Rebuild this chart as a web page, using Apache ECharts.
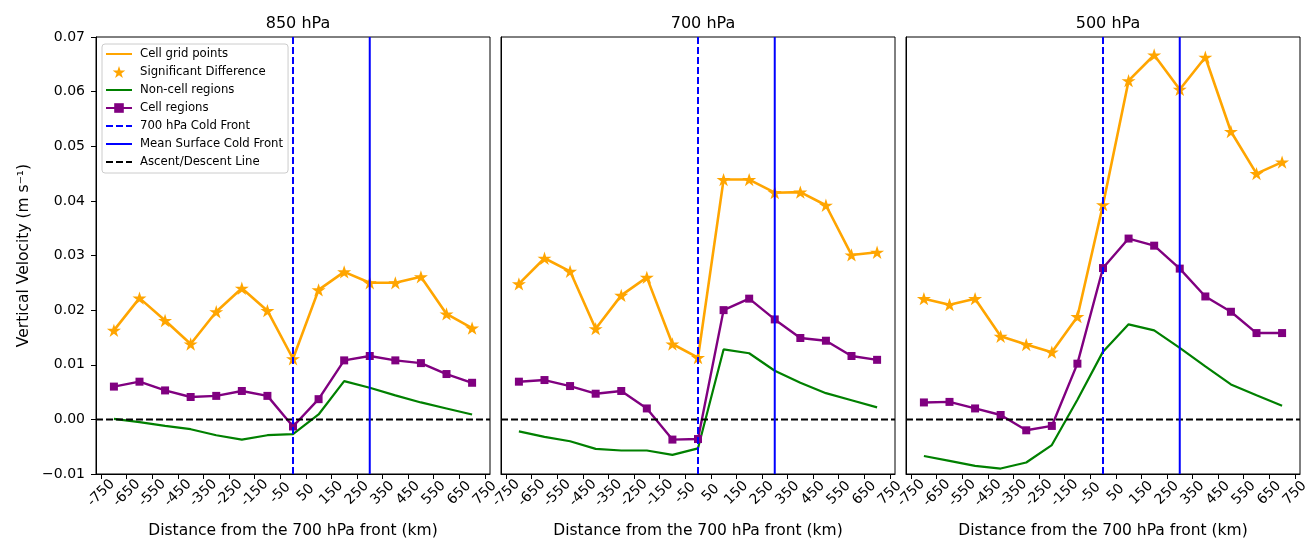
<!DOCTYPE html>
<html>
<head>
<meta charset="utf-8">
<script src="https://cdn.jsdelivr.net/npm/echarts@6/dist/echarts.min.js"></script>
<style>
  html, body { margin: 0; padding: 0; background: #fff; }
  #chart { width: 1308px; height: 540px; }
</style>
</head>
<body>
<div id="chart"></div>
<script>
// Distance from the 700 hPa front (km) for each composite point
const distances = [-700, -600, -500, -400, -300, -200, -100, 0, 100, 200, 300, 400, 500, 600, 700];

// Tick positions / labels on the distance axis
const xTicks = [-750, -650, -550, -450, -350, -250, -150, -50, 50, 150, 250, 350, 450, 550, 650, 750];

// Pressure levels shown in the three panels
const levels = ['850 hPa', '700 hPa', '500 hPa'];

// Vertical velocity (m s^-1), 850 hPa
const cellGrid850 = [0.0163, 0.0222, 0.0181, 0.0138, 0.0197, 0.0240, 0.0199, 0.0111, 0.0237, 0.0270, 0.0250, 0.0250, 0.0261, 0.0193, 0.0167];
const cellRegion850 = [0.0060, 0.0069, 0.0053, 0.0041, 0.0043, 0.0052, 0.0043, -0.0013, 0.0037, 0.0108, 0.0116, 0.0108, 0.0103, 0.0083, 0.0067];
const nonCell850 = [0.0001, -0.0005, -0.0012, -0.0018, -0.0029, -0.0037, -0.0029, -0.0027, 0.0009, 0.0070, 0.0058, 0.0044, 0.0031, 0.0020, 0.0009];

// Vertical velocity (m s^-1), 700 hPa
const cellGrid700 = [0.0248, 0.0295, 0.0271, 0.0166, 0.0227, 0.0260, 0.0138, 0.0113, 0.0439, 0.0439, 0.0415, 0.0416, 0.0392, 0.0301, 0.0306];
const cellRegion700 = [0.0069, 0.0072, 0.0061, 0.0047, 0.0052, 0.0020, -0.0037, -0.0036, 0.0200, 0.0221, 0.0183, 0.0149, 0.0144, 0.0116, 0.0109];
const nonCell700 = [-0.0022, -0.0032, -0.0040, -0.0054, -0.0057, -0.0057, -0.0065, -0.0053, 0.0128, 0.0121, 0.0089, 0.0067, 0.0048, 0.0035, 0.0022];

// Vertical velocity (m s^-1), 500 hPa
const cellGrid500 = [0.0221, 0.0210, 0.0221, 0.0152, 0.0137, 0.0123, 0.0188, 0.0393, 0.0620, 0.0667, 0.0604, 0.0663, 0.0527, 0.0450, 0.0471];
const cellRegion500 = [0.0031, 0.0032, 0.0020, 0.0008, -0.0020, -0.0012, 0.0102, 0.0277, 0.0331, 0.0318, 0.0276, 0.0225, 0.0197, 0.0158, 0.0158];
const nonCell500 = [-0.0067, -0.0076, -0.0085, -0.0090, -0.0079, -0.0047, 0.0036, 0.0124, 0.0174, 0.0163, 0.0131, 0.0097, 0.0064, 0.0044, 0.0025];

// Front positions (km from the 700 hPa front) and the zero-velocity line
const coldFront700 = 0;
const surfaceFront = 300;
const ascentLevel = 0;

// Axis extents
const xMin = -770, xMax = 770;
const yMin = -0.01, yMax = 0.07, yStep = 0.01;

const panels = [
  { cell: cellGrid850, region: cellRegion850, non: nonCell850 },
  { cell: cellGrid700, region: cellRegion700, non: nonCell700 },
  { cell: cellGrid500, region: cellRegion500, non: nonCell500 }
];

const FONT = 'DejaVu Sans';
const STAR = 'path://M0,-100L22.45,-30.9L95.1,-30.9L36.3,11.8L58.8,80.9L0,38.2L-58.8,80.9L-36.3,11.8L-95.1,-30.9L-22.45,-30.9Z';

const gridLefts = [96, 501, 906];
const gridWidth = 394;
const gridTop = 37;
const gridHeight = 437;

const pairs = (ys) => distances.map((d, i) => [d, ys[i]]);

const grids = [], xAxes = [], yAxes = [], series = [], titles = [];

gridLefts.forEach((left, p) => {
  grids.push({
    left: left, top: gridTop, width: gridWidth, height: gridHeight,
    outerBoundsMode: 'none', containLabel: false,
    show: true, borderColor: '#000', borderWidth: 1, backgroundColor: 'transparent'
  });
  titles.push({
    text: levels[p], left: left + gridWidth / 2, top: 11, textAlign: 'center',
    textStyle: { fontFamily: FONT, fontSize: 16, fontWeight: 'normal', color: '#000' }
  });
  xAxes.push({
    type: 'value', gridIndex: p, min: xMin, max: xMax,
    name: 'Distance from the 700 hPa front (km)', nameLocation: 'middle', nameGap: 49,
    nameTextStyle: { fontFamily: FONT, fontSize: 15.5, color: '#000', verticalAlign: 'top' },
    axisLine: { show: true, onZero: false, lineStyle: { color: '#000', width: 1 } },
    axisTick: { show: true, length: 5, customValues: xTicks, lineStyle: { color: '#000', width: 1 } },
    axisLabel: {
      show: true, customValues: xTicks, rotate: 45, margin: 19, align: 'center', verticalAlign: 'middle',
      fontFamily: FONT, fontSize: 14, color: '#000', formatter: (v) => String(v)
    },
    splitLine: { show: false }
  });
  yAxes.push({
    type: 'value', gridIndex: p, min: yMin, max: yMax, interval: yStep,
    name: p === 0 ? 'Vertical Velocity (m s\u207B\u00B9)' : '', nameLocation: 'middle', nameGap: 64, nameRotate: 90,
    nameTextStyle: { fontFamily: FONT, fontSize: 15.5, color: '#000' },
    axisLine: { show: true, onZero: false, lineStyle: { color: '#000', width: 1 } },
    axisTick: { show: p === 0, length: 5, lineStyle: { color: '#000', width: 1 } },
    axisLabel: {
      show: p === 0, margin: 11, fontFamily: FONT, fontSize: 14, color: '#000',
      formatter: (v) => (v < -1e-9 ? '\u2212' : '') + Math.abs(v).toFixed(2)
    },
    splitLine: { show: false }
  });

  const d = panels[p];
  series.push(
    {
      name: 'Ascent/Descent Line', type: 'line', xAxisIndex: p, yAxisIndex: p,
      data: [[xMin, ascentLevel], [xMax, ascentLevel]], symbol: 'none', z: 5,
      lineStyle: { color: '#000', width: 2, type: [7, 3] }, color: '#000'
    },
    {
      name: 'Non-cell regions', type: 'line', xAxisIndex: p, yAxisIndex: p,
      data: pairs(d.non), symbol: 'none', z: 3,
      lineStyle: { color: '#008000', width: 2.2 }, color: '#008000'
    },
    {
      name: 'Cell regions', type: 'line', xAxisIndex: p, yAxisIndex: p,
      data: pairs(d.region), symbol: 'rect', symbolSize: 8, showAllSymbol: true, z: 3,
      lineStyle: { color: '#800080', width: 2.4 }, itemStyle: { color: '#800080' }, color: '#800080'
    },
    {
      name: 'Cell grid points', type: 'line', xAxisIndex: p, yAxisIndex: p,
      data: pairs(d.cell), symbol: 'none', z: 3,
      lineStyle: { color: '#FFA500', width: 2.6 }, color: '#FFA500'
    },
    {
      name: 'Significant Difference', type: 'scatter', xAxisIndex: p, yAxisIndex: p,
      data: pairs(d.cell), symbol: STAR, symbolSize: 14, symbolKeepAspect: true, z: 4,
      itemStyle: { color: '#FFA500', opacity: 1 }, color: '#FFA500'
    },
    {
      name: '700 hPa Cold Front', type: 'line', xAxisIndex: p, yAxisIndex: p,
      data: [[coldFront700, yMin], [coldFront700, yMax]], symbol: 'none', z: 6,
      lineStyle: { color: '#0000FF', width: 2, type: [7, 3] }, color: '#0000FF'
    },
    {
      name: 'Mean Surface Cold Front', type: 'line', xAxisIndex: p, yAxisIndex: p,
      data: [[surfaceFront, yMin], [surfaceFront, yMax]], symbol: 'none', z: 6,
      lineStyle: { color: '#0000FF', width: 2 }, color: '#0000FF'
    }
  );
});

// legend rows for plain lines carry no marker
const hiddenMarker = { color: 'rgba(0,0,0,0)', borderWidth: 0, opacity: 0 };
const legendItems = [
  { name: 'Cell grid points', itemStyle: hiddenMarker },
  { name: 'Significant Difference' },
  { name: 'Non-cell regions', itemStyle: hiddenMarker },
  { name: 'Cell regions' },
  { name: '700 hPa Cold Front', itemStyle: hiddenMarker },
  { name: 'Mean Surface Cold Front', itemStyle: hiddenMarker },
  { name: 'Ascent/Descent Line', itemStyle: hiddenMarker }
];

const chart = echarts.init(document.getElementById('chart'), null, { renderer: 'canvas' });
chart.setOption({
  animation: false,
  backgroundColor: '#fff',
  textStyle: { fontFamily: FONT },
  title: titles,
  grid: grids,
  xAxis: xAxes,
  yAxis: yAxes,
  legend: {
    orient: 'vertical', left: 102, top: 44, z: 20,
    padding: [3, 5, 4, 3], itemWidth: 26, itemHeight: 12, itemGap: 4,
    backgroundColor: 'rgba(255,255,255,0.85)', borderColor: '#cccccc', borderWidth: 1, borderRadius: 3,
    selectedMode: false,
    textStyle: { fontFamily: FONT, fontSize: 11.7, color: '#000', lineHeight: 14, padding: [0, 0, 0, 3] },
    data: legendItems
  },
  series: series
});
</script>
</body>
</html>
